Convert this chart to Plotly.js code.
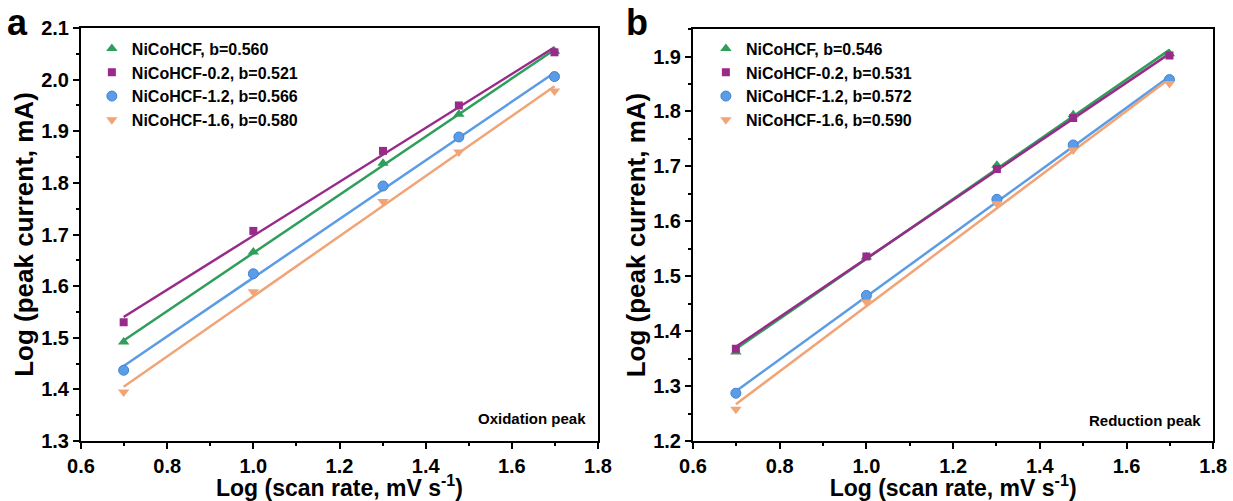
<!DOCTYPE html>
<html>
<head>
<meta charset="utf-8">
<script src="https://cdn.plot.ly/plotly-3.0.1.min.js"></script>
<style>body{margin:0;background:#fff}#chart{width:1233px;height:501px}</style>
</head>
<body>
<div id="chart"></div>
<script>
// Log (scan rate) values: 5, 10, 20, 30, 50 mV/s
const logScanRate = [0.699, 1.0, 1.301, 1.477, 1.699];
const seriesNames = ["NiCoHCF", "NiCoHCF-0.2", "NiCoHCF-1.2", "NiCoHCF-1.6"];
const oxidationB = ["0.560", "0.521", "0.566", "0.580"];
const reductionB = ["0.546", "0.531", "0.572", "0.590"];

// Oxidation peak, Log (peak current)
const oxNiCoHCF    = [1.492, 1.666, 1.838, 1.933, 2.055];
const oxNiCoHCF02  = [1.530, 1.707, 1.862, 1.950, 2.053];
const oxNiCoHCF12  = [1.437, 1.624, 1.794, 1.889, 2.006];
const oxNiCoHCF16  = [1.395, 1.589, 1.764, 1.860, 1.978];

// Reduction peak, Log (peak current)
const redNiCoHCF   = [1.362, 1.535, 1.702, 1.794, 1.905];
const redNiCoHCF02 = [1.368, 1.536, 1.695, 1.788, 1.902];
const redNiCoHCF12 = [1.287, 1.465, 1.640, 1.739, 1.858];
const redNiCoHCF16 = [1.258, 1.453, 1.632, 1.730, 1.851];

const colors = ["#2e9e5b", "#982a8a", "#5b9ce6", "#f1a577"];
const symbols = ["triangle-up", "square", "circle", "triangle-down"];

function fit(x, y) {
  const n = x.length;
  const mx = x.reduce((a, b) => a + b, 0) / n;
  const my = y.reduce((a, b) => a + b, 0) / n;
  let sxy = 0, sxx = 0;
  for (let i = 0; i < n; i++) { sxy += (x[i] - mx) * (y[i] - my); sxx += (x[i] - mx) ** 2; }
  const k = sxy / sxx;
  return x.map(v => my + k * (v - mx));
}

const oxData = [oxNiCoHCF, oxNiCoHCF02, oxNiCoHCF12, oxNiCoHCF16];
const redData = [redNiCoHCF, redNiCoHCF02, redNiCoHCF12, redNiCoHCF16];

const traces = [];
function addPanel(data, bvals, xa, ya, legendId) {
  data.forEach((ys, i) => {
    traces.push({
      x: logScanRate, y: fit(logScanRate, ys), xaxis: xa, yaxis: ya,
      mode: "lines", line: {color: colors[i], width: 2.5}, showlegend: false, hoverinfo: "skip"
    });
  });
  data.forEach((ys, i) => {
    const m = {symbol: symbols[i], color: colors[i], size: symbols[i] === "square" ? 8 : 10,
               line: symbols[i] === "circle" ? {width: 1, color: "#3f83d4"} : {width: 0}};
    traces.push({
      x: logScanRate, y: ys, xaxis: xa, yaxis: ya, mode: "markers",
      marker: m, name: seriesNames[i] + ", b=" + bvals[i], legend: legendId,
      legendgroup: legendId + i
    });
  });
}
addPanel(oxData, oxidationB, "x", "y", "legend");
addPanel(redData, reductionB, "x2", "y2", "legend2");

const FAM = "Liberation Sans, Arial, sans-serif";
const tickFont = {family: FAM, size: 20, color: "#000", weight: "bold"};
const xTitleFont = {family: FAM, size: 23, color: "#000", weight: "bold"};
const yTitleFont = {family: FAM, size: 26, color: "#000", weight: "bold"};

function xAxis(domain, anchor) {
  return {
    domain: domain, anchor: anchor, range: [0.6, 1.8], dtick: 0.2, tick0: 0.6,
    tickformat: ".1f", ticks: "outside", ticklen: 6, tickwidth: 2, tickcolor: "#000",
    minor: {dtick: 0.1, ticks: "outside", ticklen: 3, tickwidth: 2, tickcolor: "#000"},
    showline: true, linewidth: 2, linecolor: "#000", mirror: true, showgrid: false, zeroline: false,
    tickfont: tickFont,
    title: {text: "Log (scan rate, mV s<sup>-1</sup>)", font: xTitleFont, standoff: 0}
  };
}
function yAxis(domain, anchor, range) {
  return {
    domain: domain, anchor: anchor, range: range, dtick: 0.1, tick0: 1.2,
    tickformat: ".1f", ticks: "outside", ticklen: 6, tickwidth: 2, tickcolor: "#000",
    minor: {dtick: 0.05, ticks: "outside", ticklen: 3, tickwidth: 2, tickcolor: "#000"},
    showline: true, linewidth: 2, linecolor: "#000", mirror: true, showgrid: false, zeroline: false,
    tickfont: tickFont,
    title: {text: "Log (peak current, mA)", font: yTitleFont, standoff: 0}
  };
}

const legendFont = {family: FAM, size: 16, color: "#000", weight: "bold"};
const layout = {
  width: 1233, height: 501,
  margin: {l: 0, r: 0, t: 0, b: 0},
  paper_bgcolor: "#fff", plot_bgcolor: "#fff",
  xaxis: xAxis([0.0657, 0.485], "y"),
  yaxis: yAxis([0.1198, 0.944], "x", [1.3, 2.1]),
  xaxis2: xAxis([0.562, 0.984], "y2"),
  yaxis2: yAxis([0.1198, 0.942], "x2", [1.2, 1.95]),
  legend: {x: 0.0745, y: 0.937, xanchor: "left", yanchor: "top", font: legendFont, bgcolor: "rgba(0,0,0,0)", tracegroupgap: 0, itemwidth: 30},
  legend2: {x: 0.5725, y: 0.937, xanchor: "left", yanchor: "top", font: legendFont, bgcolor: "rgba(0,0,0,0)", tracegroupgap: 0, itemwidth: 30},
  showlegend: true,
  annotations: [
    {text: "a", x: 0.004, y: 1.0, xref: "paper", yref: "paper", xanchor: "left", yanchor: "top", showarrow: false,
     font: {family: FAM, size: 36, color: "#000", weight: "bold"}},
    {text: "b", x: 0.506, y: 1.0, xref: "paper", yref: "paper", xanchor: "left", yanchor: "top", showarrow: false,
     font: {family: FAM, size: 36, color: "#000", weight: "bold"}},
    {text: "Oxidation peak", x: 0.98, y: 0.03, xref: "x domain", yref: "y domain", xanchor: "right", yanchor: "bottom", showarrow: false,
     font: {family: FAM, size: 15, color: "#000", weight: "bold"}},
    {text: "Reduction peak", x: 0.98, y: 0.025, xref: "x2 domain", yref: "y2 domain", xanchor: "right", yanchor: "bottom", showarrow: false,
     font: {family: FAM, size: 15, color: "#000", weight: "bold"}}
  ]
};

Plotly.newPlot("chart", traces, layout, {displayModeBar: false, staticPlot: true});
</script>
</body>
</html>
